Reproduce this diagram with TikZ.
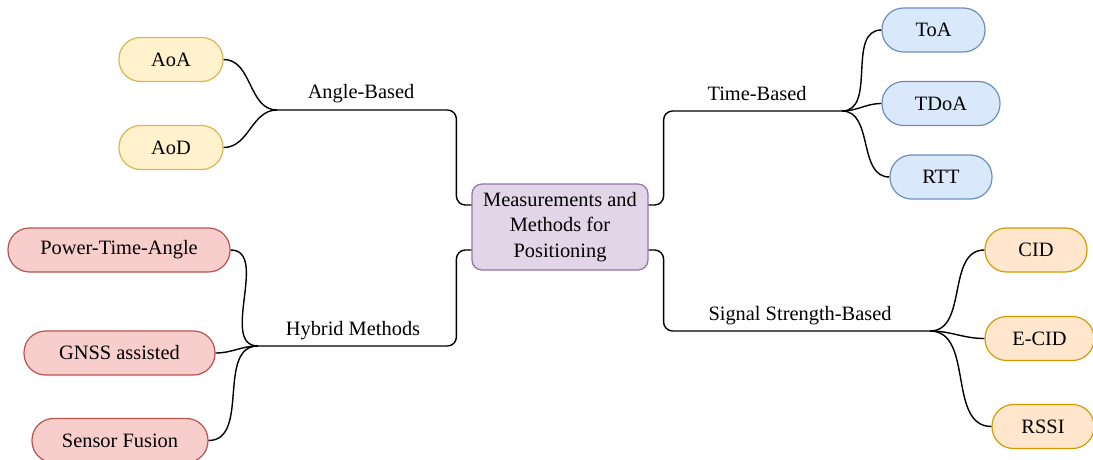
\documentclass[tikz,border=0pt]{standalone}
\usepackage{fontspec}
\setmainfont{Liberation Serif}
\begin{document}
\begin{tikzpicture}[x=1pt,y=-1pt,
  every node/.style={font=\fontsize{20.4}{25.5}\selectfont},
  leaf/.style={draw, line width=1.2pt, rounded corners=21.5pt, minimum height=44pt, inner sep=0pt},
  yel/.style={leaf, fill=yelF, draw=yelD},
  blu/.style={leaf, fill=bluF, draw=bluD},
  red/.style={leaf, fill=redF, draw=redD},
  ora/.style={leaf, fill=oraF, draw=oraD},
  hub/.style={draw=purD, fill=purF, line width=1.2pt, rounded corners=10pt, minimum width=176pt, minimum height=86pt, align=center, inner sep=0pt},
  wire/.style={line width=1.4pt, black},
  lbl/.style={anchor=base, inner sep=0pt}
]
\definecolor{yelF}{HTML}{FFF2CC}\definecolor{yelD}{HTML}{D6B656}
\definecolor{bluF}{HTML}{DAE8FC}\definecolor{bluD}{HTML}{6C8EBF}
\definecolor{redF}{HTML}{F8CECC}\definecolor{redD}{HTML}{B85450}
\definecolor{oraF}{HTML}{FFE6CC}\definecolor{oraD}{HTML}{D79B00}
\definecolor{purF}{HTML}{E1D5E7}\definecolor{purD}{HTML}{9673A6}
\useasboundingbox (0,0) rectangle (1093,460);

% center
\node[hub] (c) at (560,227) {Measurements and\\Methods for\\Positioning};
\coordinate (cLT) at ([yshift=22pt]c.west);
\coordinate (cLB) at ([yshift=-23pt]c.west);
\coordinate (cRT) at ([yshift=22pt]c.east);
\coordinate (cRB) at ([yshift=-23pt]c.east);

% junctions
\coordinate (jA) at (277,110);
\coordinate (jT) at (842,111);
\coordinate (jS) at (930,331);
\coordinate (jH) at (258,346);

% leaves
\node[yel, minimum width=104pt] (aoa) at (171,59.5) {AoA};
\node[yel, minimum width=104pt] (aod) at (171,147.5) {AoD};
\node[blu, minimum width=103pt] (toa) at (933.5,30) {ToA};
\node[blu, minimum width=118pt] (tdoa) at (941,103.5) {TDoA};
\node[blu, minimum width=102pt] (rtt) at (941,177) {RTT};
\node[ora, minimum width=102pt] (cid) at (1036,250) {CID};
\node[ora, minimum width=109pt] (ecid) at (1039.5,338.5) {E-CID};
\node[ora, minimum width=102pt] (rssi) at (1043,426.5) {RSSI};
\node[red, minimum width=222pt] (pta) at (119,250) {Power-Time-Angle};
\node[red, minimum width=191pt] (gnss) at (119.5,353) {GNSS assisted};
\node[red, minimum width=176pt] (sf) at (120,440.5) {Sensor Fusion};

% trunks
\draw[wire, rounded corners=9pt] (cLT) -- ++(-15,0) |- (jA);
\draw[wire, rounded corners=9pt] (cRT) -- ++(15,0) |- (jT);
\draw[wire, rounded corners=9pt] (cRB) -- ++(15,0) |- (jS);
\draw[wire, rounded corners=9pt] (cLB) -- ++(-15,0) |- (jH);

% labels
\node[lbl] (lA) at (361,99) {Angle-Based};
\node[lbl] (lT) at (757,100) {Time-Based};
\node[lbl] (lS) at (800,320) {Signal Strength-Based};
\node[lbl] (lH) at (353,335) {Hybrid Methods};

% branches
\draw[wire] (jA) to[out=180,in=0] (aoa.east);
\draw[wire] (jA) to[out=180,in=0] (aod.east);
\draw[wire] (jT) to[out=0,in=180] (toa.west);
\draw[wire] (jT) to[out=0,in=180] (tdoa.west);
\draw[wire] (jT) to[out=0,in=180] (rtt.west);
\draw[wire] (jS) to[out=0,in=180] (cid.west);
\draw[wire] (jS) to[out=0,in=180] (ecid.west);
\draw[wire] (jS) to[out=0,in=180] (rssi.west);
\draw[wire] (jH) to[out=180,in=0] (pta.east);
\draw[wire] (jH) to[out=180,in=0] (gnss.east);
\draw[wire] (jH) to[out=180,in=0] (sf.east);
\end{tikzpicture}
\end{document}
